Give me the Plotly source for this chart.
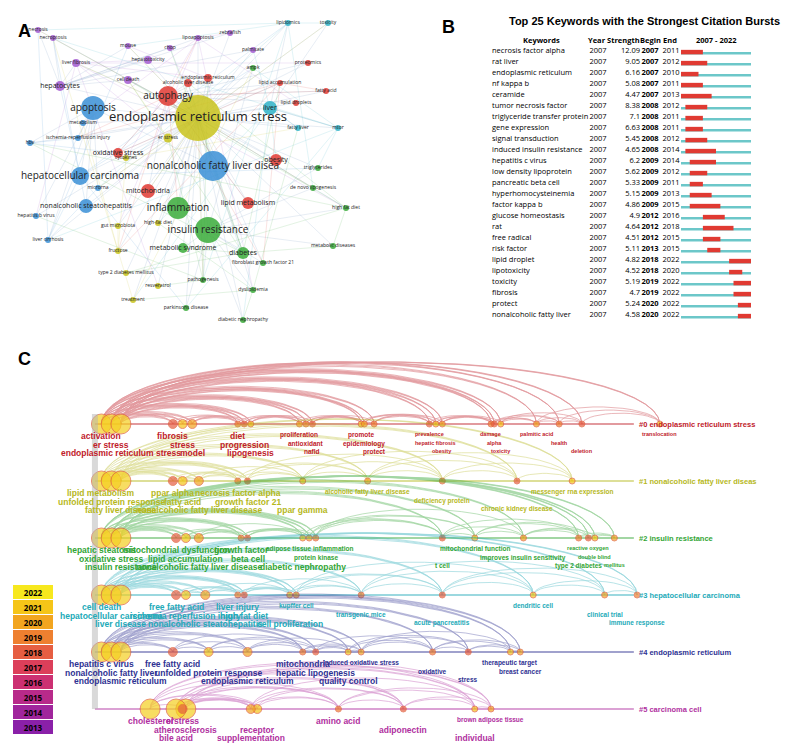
import numpy as np
import plotly.graph_objects as go

# ---------------- Panel A: co-occurrence network ----------------
net_labels = ["endoplasmic reticulum stress","nonalcoholic fatty liver disea","apoptosis","autophagy","inflammation",
  "insulin resistance","hepatocellular carcinoma","nonalcoholic steatohepatitis","mitochondria","diabetes",
  "metabolic syndrome","lipid metabolism","liver","obesity","hepatocytes","liver fibrosis","hepatotoxicity","chop",
  "lipoapoptosis","zebrafish","palmitate","lipidomics","toxicity","proteomics","lipid accumulation","fatty acid",
  "lipid droplets","mtor","triglycerides","de novo lipogenesis","high fat diet","metabolic diseases",
  "fibroblast growth factor 21","dyslipidemia","diabetic nephropathy","parkinsons disease","pathogenesis","resveratrol",
  "type 2 diabetes mellitus","fructose","gut microbiota","high-fat diet","liver cirrhosis","microrna","hepatitis b virus",
  "hbv","ischemia-reperfusion injury","metabolism","treatment","necroptosis","necrosis","er stress","cell death",
  "oxidative stress","cytokines","fatty liver","ampk","mouse","endoplasmic reticulum","alcoholic liver disease"]
net_x = [190,205,85,160,170,200,72,78,140,235,175,240,262,268,52,68,140,162,190,222,245,280,320,300,272,318,288,330,310,
  305,338,325,255,245,235,178,195,150,118,110,110,150,40,90,28,22,70,75,125,45,30,160,120,110,118,290,245,120,200,180]
net_y = [110,158,100,88,200,222,168,198,183,245,240,195,100,152,78,55,52,40,30,25,42,15,15,55,75,83,95,120,160,180,200,
  238,255,282,312,300,272,278,265,243,218,215,232,180,208,135,130,115,292,30,22,130,72,145,150,120,60,38,70,75]
net_size = [46,30,24,20,22,26,18,14,14,12,10,12,14,12,10,8,8,6,6,6,6,6,6,6,6,6,6,6,6,6,6,6,6,6,6,6,6,6,6,6,6,6,6,6,6,
  6,6,6,6,6,6,9,8,10,6,6,6,6,8,8]
net_cluster = [0,1,1,2,3,3,1,1,2,3,3,2,4,2,5,5,5,5,5,5,5,4,4,2,2,2,2,4,3,3,3,3,3,3,3,3,3,0,0,0,0,0,1,1,1,1,1,1,0,5,5,
  0,5,2,0,4,3,5,2,2]
cluster_colors = ["#c9c31c", "#3a8fd6", "#e03a32", "#3aac3a", "#2fb3c8", "#a35ad0"]
hubs = [0, 2, 3, 5, 12, 14]

# ---------------- Panel B: citation bursts ----------------
kw = ["necrosis factor alpha","rat liver","endoplasmic reticulum","nf kappa b","ceramide","tumor necrosis factor",
  "triglyceride transfer protein","gene expression","signal transduction","induced insulin resistance",
  "hepatitis c virus","low density lipoprotein","pancreatic beta cell","hyperhomocysteinemia","factor kappa b",
  "glucose homeostasis","rat","free radical","risk factor","lipid droplet","lipotoxicity","toxicity","fibrosis",
  "protect","nonalcoholic fatty liver"]
kw_year = [2007]*25
strength = [12.09,9.05,6.16,5.08,4.47,8.38,7.1,6.63,5.45,4.65,6.2,5.62,5.33,5.15,4.86,4.9,4.64,4.51,5.11,4.82,4.52,
  5.19,4.7,5.24,4.58]
begin = [2007,2007,2007,2007,2007,2008,2008,2008,2008,2008,2009,2009,2009,2009,2009,2012,2012,2012,2013,2018,2018,
  2019,2019,2020,2020]
end = [2011,2012,2010,2011,2013,2012,2011,2011,2012,2014,2014,2012,2011,2013,2015,2016,2018,2015,2015,2022,2020,2022,
  2022,2022,2022]

# ---------------- Panel C: timeline ----------------
cluster_names = ["#0 endoplasmic reticulum stress","#1 nonalcoholic fatty liver diseas","#2 insulin resistance",
  "#3 hepatocellular carcinoma","#4 endoplasmic reticulum","#5 carcinoma cell"]
tl_colors = ["#c0202a", "#b6b81c", "#32a534", "#22aab8", "#2e3192", "#b030a0"]
tl_kw = [
  [("activation",2007),("er stress",2007.3),("endoplasmic reticulum stress",2007.6),("fibrosis",2009.2),("stress",2009.5),
   ("model",2009.8),("diet",2011.2),("progression",2011.4),("lipogenesis",2011.6),("proliferation",2013.1),
   ("antioxidant",2013.3),("nafld",2013.5),("promote",2015),("epidemiology",2015.1),("protect",2015.4),
   ("prevalence",2017.1),("hepatic fibrosis",2017.3),("obesity",2017.5),("damage",2019),("alpha",2019.1),
   ("toxicity",2019.3),("palmitic acid",2020.4),("health",2021.1),("deletion",2021.8),("translocation",2024.2)],
  [("lipid metabolism",2007),("unfolded protein response",2007.3),("fatty liver disease",2007.6),("ppar alpha",2009.2),
   ("fatty acid",2009.5),("nonalcoholic fatty liver disease",2010),("necrosis factor alpha",2011.2),
   ("growth factor 21",2011.5),("ppar gamma",2013.2),("alcoholic fatty liver disease",2015.2),
   ("deficiency protein",2017.5),("chronic kidney disease",2019.8),("messenger rna expression",2021.5)],
  [("hepatic steatosis",2007),("oxidative stress",2007.3),("insulin resistance",2007.6),("mitochondrial dysfunction",2009.3),
   ("lipid accumulation",2009.6),("nonalcoholic fatty liver disease",2010),("growth factor",2011.3),
   ("beta cell",2011.5),("diabetic nephropathy",2013.2),("adipose tissue inflammation",2013.4),("protein kinase",2013.6),
   ("t cell",2017.5),("mitochondrial function",2018.5),("improves insulin sensitivity",2020),
   ("type 2 diabetes",2021.7),("reactive oxygen",2022),("double blind",2022.2),("mellitus",2022.8)],
  [("cell death",2007),("hepatocellular carcinoma",2007.3),("liver disease",2007.6),("free fatty acid",2009.3),
   ("ischemia reperfusion injury",2009.6),("nonalcoholic steatohepatitis",2010.2),("liver injury",2011.2),
   ("high fat diet",2011.4),("cell proliferation",2012.8),("kupffer cell",2013),("transgenic mice",2015),
   ("acute pancreatitis",2017.5),("dendritic cell",2020.3),("clinical trial",2022.5),("immune response",2023.5)],
  [("hepatitis c virus",2007),("nonalcoholic fatty liver",2007.3),("endoplasmic reticulum",2007.6),
   ("free fatty acid",2009.2),("unfolded protein response",2010.3),("endoplasmic reticulum",2011.5),
   ("mitochondria",2013.2),("hepatic lipogenesis",2013.6),("quality control",2014.6),("induced oxidative stress",2015),
   ("oxidative",2017.2),("stress",2018.3),("therapeutic target",2019.6),("breast cancer",2019.9)],
  [("cholesterol",2008.5),("atherosclerosis",2009.6),("bile acid",2009.3),("erstress",2009.5),("receptor",2011.8),
   ("supplementation",2011.6),("amino acid",2014.3),("adiponectin",2016.3),("individual",2018.5),
   ("brown adipose tissue",2019)]]
legend_years = [2022,2021,2020,2019,2018,2017,2016,2015,2014,2013]
legend_colors = ["#f7e81e","#f5c518","#f2a51f","#ee8030","#e65e42","#dc3f5a","#cc3072","#b82a8a","#a0259c","#8a20a8"]

W, H = 800, 746
fig = go.Figure()

# ---- A ----
ex, ey = [], []
for i, c in enumerate(net_cluster):
    for h in {0, hubs[c]}:
        if h != i:
            ex += [net_x[i], net_x[h], None]; ey += [net_y[i], net_y[h], None]
fig.add_trace(go.Scatter(x=ex, y=ey, mode="lines", line=dict(color="rgba(140,170,200,0.35)", width=0.6),
                         hoverinfo="skip", xaxis="x", yaxis="y"))
for i in range(len(net_cluster)):
    if i % 3 == 0:
        for j in range(i + 1, len(net_cluster), 7):
            fig.add_trace(go.Scatter(x=[net_x[i], net_x[j]], y=[net_y[i], net_y[j]], mode="lines", hoverinfo="skip",
                                     line=dict(color=cluster_colors[net_cluster[i]], width=0.4), opacity=0.35,
                                     xaxis="x", yaxis="y"))
fig.add_trace(go.Scatter(x=net_x, y=net_y, mode="markers+text", text=net_labels,
    marker=dict(size=net_size, color=[cluster_colors[c] for c in net_cluster], opacity=0.85, line=dict(width=0)),
    textfont=dict(size=[13 if s >= 40 else 10 if s >= 18 else 7 if s >= 10 else 5 for s in net_size], color="#222"),
    textposition="middle center", hoverinfo="skip", xaxis="x", yaxis="y"))

# ---- B ----
ann = []
X_KW, X_YEAR, X_STR, X_BEG, X_END, BAR0, BAR1 = 484, 590, 632, 642, 663, 673, 743
def yr2px(y):
    return BAR0 + (y - 2006.5) / 16 * (BAR1 - BAR0)
rows = list(range(len(kw)))
F = dict(size=7.5, family="Open Sans", color="black")
hdr = dict(y=-1, xref="x2", yref="y2", showarrow=False, font=F)
for txt, xx in [("<b>Keywords</b>", 533), ("<b>Year</b>", 589), ("<b>Strength</b>", 615),
                ("<b>Begin</b>", 642), ("<b>End</b>", 662), ("<b>2007 - 2022</b>", 708)]:
    ann.append(dict(text=txt, x=xx, **hdr))
fig.add_trace(go.Scatter(x=[X_KW]*25, y=rows, text=kw, mode="text", textposition="middle right",
    textfont=F, xaxis="x2", yaxis="y2", hoverinfo="skip"))
fig.add_trace(go.Scatter(x=[X_YEAR]*25, y=rows, text=[str(v) for v in kw_year], mode="text",
    textfont=F, xaxis="x2", yaxis="y2", hoverinfo="skip"))
fig.add_trace(go.Scatter(x=[X_STR]*25, y=rows, text=[str(v) for v in strength], mode="text", textposition="middle left",
    textfont=F, xaxis="x2", yaxis="y2", hoverinfo="skip"))
fig.add_trace(go.Scatter(x=[X_BEG]*25, y=rows, text=["<b>%d</b>" % v for v in begin], mode="text",
    textfont=F, xaxis="x2", yaxis="y2", hoverinfo="skip"))
fig.add_trace(go.Scatter(x=[X_END]*25, y=rows, text=[str(v) for v in end], mode="text",
    textfont=F, xaxis="x2", yaxis="y2", hoverinfo="skip"))
bx, by, rx, ry = [], [], [], []
for r in rows:
    bx += [yr2px(2006.5), yr2px(2022.5), None]; by += [r + 0.2, r + 0.2, None]
    rx += [yr2px(begin[r] - 0.5), yr2px(end[r] + 0.5), None]; ry += [r + 0.1, r + 0.1, None]
fig.add_trace(go.Scatter(x=bx, y=by, mode="lines", line=dict(color="#6cc7c9", width=2.5), xaxis="x2", yaxis="y2", hoverinfo="skip"))
fig.add_trace(go.Scatter(x=rx, y=ry, mode="lines", line=dict(color="#e03a32", width=4.5), xaxis="x2", yaxis="y2", hoverinfo="skip"))

# ---- C ----
def ypx(ci):
    return 416 + 57 * ci
for ci, items in enumerate(tl_kw):
    y0 = ypx(ci); col = tl_colors[ci]
    ax, ay = [], []
    for a in range(min(3, len(items))):
        for b in range(3, len(items)):
            xa, xb = items[a][1], items[b][1]
            t = np.linspace(0, np.pi, 30)
            h = min((xb - xa) * 4.5, 62)
            ax += list((xa + xb) / 2 - (xb - xa) / 2 * np.cos(t)) + [None]
            ay += list(y0 - h * np.sin(t)) + [None]
    for a in range(3, len(items) - 1):
        for b in range(a + 1, min(a + 4, len(items))):
            xa, xb = items[a][1], items[b][1]
            if xb - xa < 0.3:
                continue
            t = np.linspace(0, np.pi, 20)
            h = min((xb - xa) * 4.5, 62)
            ax += list((xa + xb) / 2 - (xb - xa) / 2 * np.cos(t)) + [None]
            ay += list(y0 - h * np.sin(t)) + [None]
    fig.add_trace(go.Scatter(x=ax, y=ay, mode="lines", line=dict(color=col, width=0.7), opacity=0.45,
                             xaxis="x3", yaxis="y3", hoverinfo="skip"))
    fig.add_trace(go.Scatter(x=[2006.8, 2023.4], y=[y0, y0], mode="lines", line=dict(color=col, width=1.5),
                             opacity=0.6, xaxis="x3", yaxis="y3", hoverinfo="skip"))
    xs = [it[1] for it in items]
    sizes = [20 if k < 3 else 9 if k < 6 else 6 for k in range(len(items))]
    fig.add_trace(go.Scatter(x=xs, y=[y0]*len(xs), mode="markers",
        marker=dict(size=sizes, color=[legend_colors[k % 4 + 1] if k >= 3 else "#f5d020" for k in range(len(items))],
                    line=dict(color="#e0603a", width=1)), xaxis="x3", yaxis="y3", hoverinfo="skip"))
    for k, (lab, xv) in enumerate(items):
        ann.append(dict(text="<b>%s</b>" % lab, x=xv, y=y0 + 5 + (k % 3) * 8.5, xref="x3", yref="y3",
                        showarrow=False, yanchor="top",
                        font=dict(size=8.5 if k < 9 else 6.5 if k < 15 else 5.5, color=col, family="Liberation Sans")))
    ann.append(dict(text="<b>%s</b>" % cluster_names[ci], x=2023.5, y=y0, xref="x3", yref="y3", showarrow=False,
                    xanchor="left", font=dict(size=7.5, color=col, family="Liberation Sans")))
fig.add_trace(go.Scatter(x=[2006.8, 2006.8], y=[ypx(0) - 10, ypx(5)], mode="lines",
                         line=dict(color="rgba(180,180,180,0.5)", width=6), xaxis="x3", yaxis="y3", hoverinfo="skip"))

# color legend
fig.add_trace(go.Heatmap(z=[[y] for y in legend_years], x=[0], y=list(range(len(legend_years))),
    colorscale=[[i / 9, c] for i, c in enumerate(legend_colors[::-1])], zmin=2013, zmax=2022, showscale=False,
    text=[[str(y)] for y in legend_years], texttemplate="<b>%{text}</b>", textfont=dict(size=8, color="black"),
    xgap=0, ygap=1, xaxis="x4", yaxis="y4", hoverinfo="skip"))

for t, x, y in [("A", 0.01, 0.985), ("B", 0.54, 0.99), ("C", 0.01, 0.545)]:
    ann.append(dict(text="<b>%s</b>" % t, x=x, y=y, xref="paper", yref="paper", showarrow=False,
                    font=dict(size=18, color="black", family="Liberation Sans"), xanchor="left", yanchor="top"))
ann.append(dict(text="<b>Top 25 Keywords with the Strongest Citation Bursts</b>", x=0.795, y=0.993, xref="paper",
                yref="paper", showarrow=False, xanchor="center", yanchor="top",
                font=dict(size=11, color="black", family="Liberation Sans")))

ax_hidden = dict(visible=False, showgrid=False, zeroline=False)
fig.update_layout(
    width=W, height=H, margin=dict(l=0, r=0, t=0, b=0), plot_bgcolor="white", paper_bgcolor="white", showlegend=False,
    xaxis=dict(domain=[0.0, 430 / W], range=[0, 430], **ax_hidden),
    yaxis=dict(domain=[1 - 335 / H, 1], range=[335, 0], **ax_hidden),
    xaxis2=dict(domain=[468 / W, 1], range=[468, 800], **ax_hidden),
    yaxis2=dict(domain=[1 - 330 / H, 1 - 18 / H], range=[(330 - 43) / 11, -(43 - 18) / 11], **ax_hidden),
    xaxis3=dict(domain=[60 / W, 1], range=[2007 - 35 / 34, 2007 + 740 / 34], **ax_hidden),
    yaxis3=dict(domain=[0, 400 / H], range=[746, 346], **ax_hidden),
    xaxis4=dict(domain=[5 / W, 45 / W], range=[-0.5, 0.5], **ax_hidden),
    yaxis4=dict(domain=[1 - 727 / H, 1 - 577 / H], range=[9.5, -0.5], **ax_hidden),
    annotations=ann,
)
fig.write_html("out.html")
